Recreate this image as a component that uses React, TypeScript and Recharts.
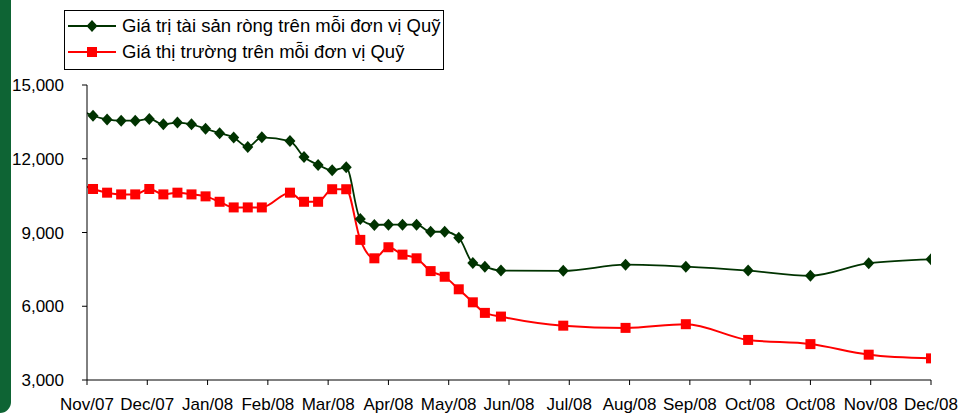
import React from "react";
import { Legend, Line, LineChart, XAxis, YAxis } from "recharts";

// day offsets counted from the first axis tick (Nov/07), ticks every 30 days
const days = [
  -4, 3, 10, 17, 24, 31, 38, 45, 52, 59, 66, 73, 80, 87,
  101, 108, 115, 122, 129, 136, 143, 150, 157, 164, 171, 178, 185, 192, 198, 206,
  237, 268, 298, 329, 360, 389, 420,
];

const navPerUnit = [
  14000, 13750, 13600, 13550, 13550, 13620, 13400, 13470, 13400, 13220, 13040, 12860, 12480, 12870,
  12720, 12070, 11750, 11530, 11650, 9550, 9310, 9320, 9320, 9320, 9030, 9030, 8790, 7760, 7610, 7450,
  7440, 7690, 7610, 7450, 7240, 7750, 7910,
];

const marketPerUnit = [
  10990, 10770, 10620, 10550, 10550, 10770, 10550, 10620, 10550, 10470, 10250, 10020, 10020, 10020,
  10620, 10250, 10250, 10760, 10760, 8700, 7950, 8400, 8100, 7950, 7430, 7200, 6690, 6160, 5730, 5580,
  5210, 5120, 5270, 4630, 4460, 4030, 3880,
];

const xTicks = [0, 30, 60, 90, 120, 150, 180, 210, 240, 270, 300, 330, 360, 390, 420];
const xLabels = [
  "Nov/07", "Dec/07", "Jan/08", "Feb/08", "Mar/08", "Apr/08", "May/08", "Jun/08",
  "Jul/08", "Aug/08", "Sep/08", "Oct/08", "Oct/08", "Nov/08", "Dec/08",
];
const yTicks = [3000, 6000, 9000, 12000, 15000];

const seriesNames = {
  nav: "Giá trị tài sản ròng trên mỗi đơn vị Quỹ",
  market: "Giá thị trường trên mỗi đơn vị Quỹ",
};

const GREEN = "#003300";
const RED = "#ff0000";
const FONT = "'Liberation Sans', Arial, sans-serif";

const data = days.map((d, i) => ({
  day: d,
  nav: navPerUnit[i],
  market: marketPerUnit[i],
}));

const Diamond = (props: any) => {
  const { cx, cy, index } = props;
  if (index === 0 || cx == null) return <g key={`nd-${index}`} />;
  return (
    <path
      key={`nd-${index}`}
      d={`M${cx},${cy - 6}L${cx + 5.5},${cy}L${cx},${cy + 6}L${cx - 5.5},${cy}Z`}
      fill={GREEN}
    />
  );
};

const Square = (props: any) => {
  const { cx, cy, index } = props;
  if (index === 0 || cx == null) return <g key={`md-${index}`} />;
  return <rect key={`md-${index}`} x={cx - 5} y={cy - 5} width={10} height={10} fill={RED} />;
};

const LegendBox = () => {
  const row = (color: string, marker: React.ReactNode, label: string) => (
    <div style={{ display: "flex", alignItems: "center", height: 26 }}>
      <svg width={49} height={14} style={{ marginLeft: 3, marginRight: 5 }}>
        <line x1={0} y1={7} x2={48} y2={7} stroke={color} strokeWidth={2} />
        {marker}
      </svg>
      <span>{label}</span>
    </div>
  );
  return (
    <div
      style={{
        width: 380,
        height: 60,
        boxSizing: "border-box",
        border: "1px solid #000",
        background: "#fff",
        paddingTop: 2,
        fontFamily: FONT,
        fontSize: 18.5,
        color: "#000",
        whiteSpace: "nowrap",
      }}
    >
      {row(GREEN, <path d="M24,1L29.5,7L24,13L18.5,7Z" fill={GREEN} />, seriesNames.nav)}
      {row(RED, <rect x={19} y={2} width={10} height={10} fill={RED} />, seriesNames.market)}
    </div>
  );
};

export default function App() {
  return (
    <div
      style={{
        position: "absolute",
        left: 0,
        top: 0,
        width: 967,
        height: 413,
        background: "#fff",
        overflow: "hidden",
      }}
    >
      <div
        style={{
          position: "absolute",
          left: 0,
          top: 0,
          width: 11,
          height: 413,
          background: "#0e6434",
          borderBottomRightRadius: 11,
        }}
      />
      <LineChart
        width={967}
        height={413}
        data={data}
        margin={{ top: 85, right: 36, bottom: 3, left: 7 }}
        style={{ fontFamily: FONT }}
      >
        <XAxis
          dataKey="day"
          type="number"
          domain={[0, 420]}
          allowDataOverflow
          ticks={xTicks}
          tickFormatter={(v: number) => xLabels[xTicks.indexOf(v)]}
          interval={0}
          height={30}
          tickSize={5}
          tickMargin={13}
          axisLine={{ stroke: "#000" }}
          tickLine={{ stroke: "#000" }}
          tick={{ fill: "#000", fontSize: 17 }}
        />
        <YAxis
          domain={[3000, 15000]}
          ticks={yTicks}
          width={80}
          tickSize={5}
          tickMargin={18}
          tickFormatter={(v: number) => v.toLocaleString("en-US")}
          axisLine={{ stroke: "#000" }}
          tickLine={{ stroke: "#000" }}
          tick={{ fill: "#000", fontSize: 17 }}
        />
        <Legend
          content={<LegendBox />}
          layout="horizontal"
          verticalAlign="middle"
          align="center"
          wrapperStyle={{ top: 10, left: 64, width: 380, height: 60 }}
        />
        <Line
          dataKey="nav"
          name={seriesNames.nav}
          type="monotone"
          stroke={GREEN}
          strokeWidth={1.8}
          dot={Diamond}
          activeDot={false}
          isAnimationActive={false}
        />
        <Line
          dataKey="market"
          name={seriesNames.market}
          type="monotone"
          stroke={RED}
          strokeWidth={2}
          dot={Square}
          activeDot={false}
          isAnimationActive={false}
        />
      </LineChart>
    </div>
  );
}
